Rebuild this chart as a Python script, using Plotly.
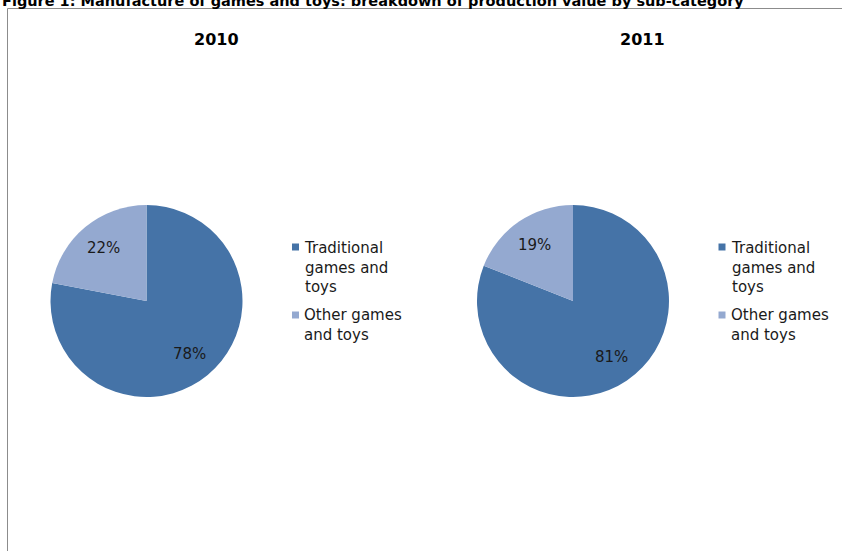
import math
import plotly.graph_objects as go

W, H = 842, 551

categories = ["Traditional<br>games and<br>toys", "Other games<br>and toys"]
years = ["2010", "2011"]
share_2010 = [78, 22]
share_2011 = [81, 19]
colors = ["#4573A7", "#94A9D0"]

title = "Figure 1: Manufacture of games and toys: breakdown of production value by sub-category"
FONT = "DejaVu Sans, Arial, sans-serif"
TEXT_COLOR = "#1a1a1a"


def px_x(p):
    return p / W


def px_y(p):
    return 1 - p / H


fig = go.Figure()

# one pie per year, with its legend block to the right
R = 96
CY = 301
LINE_H = 20
pie_specs = [
    (years[0], share_2010, 146.5, 216),
    (years[1], share_2011, 573.0, 642),
]

annotations = []
shapes = []
for year, vals, cx, title_x in pie_specs:
    fig.add_trace(go.Pie(
        name=year,
        labels=categories,
        values=vals,
        sort=False,
        direction="clockwise",
        rotation=0,
        marker=dict(colors=colors, line=dict(width=0)),
        textinfo="none",
        domain=dict(x=[px_x(cx - R), px_x(cx + R)], y=[px_y(CY + R), px_y(CY - R)]),
        showlegend=False,
        hovertemplate="%{label}: %{value}%<extra>" + year + "</extra>",
    ))

    # percentage labels inside each slice, along its bisector
    total = sum(vals)
    cum = 0.0
    for v in vals:
        theta = 2 * math.pi * (cum + v / 2) / total
        cum += v
        dx = 0.71 * R * math.sin(theta)
        dy = -0.71 * R * math.cos(theta)
        annotations.append(dict(
            text=f"{v}%", x=px_x(cx + dx), y=px_y(CY + dy), xref="paper", yref="paper",
            xanchor="center", yanchor="middle", showarrow=False,
            font=dict(family=FONT, size=15, color=TEXT_COLOR),
        ))

    # year heading
    annotations.append(dict(
        text=f"<b>{year}</b>", x=px_x(title_x), y=px_y(39), xref="paper", yref="paper",
        xanchor="center", yanchor="middle", showarrow=False,
        font=dict(family=FONT, size=16, color="#000000"),
    ))

    # legend block: small square swatch + wrapped category name
    text_x = cx + 157.5
    first_line = 247
    for cat, col in zip(categories, colors):
        n_lines = cat.count("<br>") + 1
        shapes.append(dict(
            type="rect", xref="paper", yref="paper",
            x0=px_x(text_x - 12), x1=px_x(text_x - 5),
            y0=px_y(first_line + 3.5), y1=px_y(first_line - 3.5),
            fillcolor=col, line=dict(width=0),
        ))
        annotations.append(dict(
            text=cat, x=px_x(text_x - 2), y=px_y(first_line + (n_lines - 1) * LINE_H / 2),
            xref="paper", yref="paper", xanchor="left", yanchor="middle", align="left",
            showarrow=False, font=dict(family=FONT, size=15, color=TEXT_COLOR),
        ))
        first_line += n_lines * LINE_H + 8

annotations.append(dict(
    text=f"<b>{title}</b>", x=0, y=px_y(0.6), xref="paper", yref="paper",
    xanchor="left", yanchor="middle", showarrow=False,
    font=dict(family=FONT, size=14.5, color="#000000"),
))

# chart frame: top and left edges
shapes += [
    dict(type="line", xref="paper", yref="paper", x0=px_x(7.5), x1=1, y0=px_y(8.5), y1=px_y(8.5),
         line=dict(color="#8c8c8c", width=1)),
    dict(type="line", xref="paper", yref="paper", x0=px_x(7.5), x1=px_x(7.5), y0=0, y1=px_y(8.5),
         line=dict(color="#8c8c8c", width=1)),
]

fig.update_layout(
    width=W, height=H,
    margin=dict(l=0, r=0, t=0, b=0),
    paper_bgcolor="#ffffff",
    plot_bgcolor="#ffffff",
    showlegend=False,
    annotations=annotations,
    shapes=shapes,
)

fig.write_html("out.html")
